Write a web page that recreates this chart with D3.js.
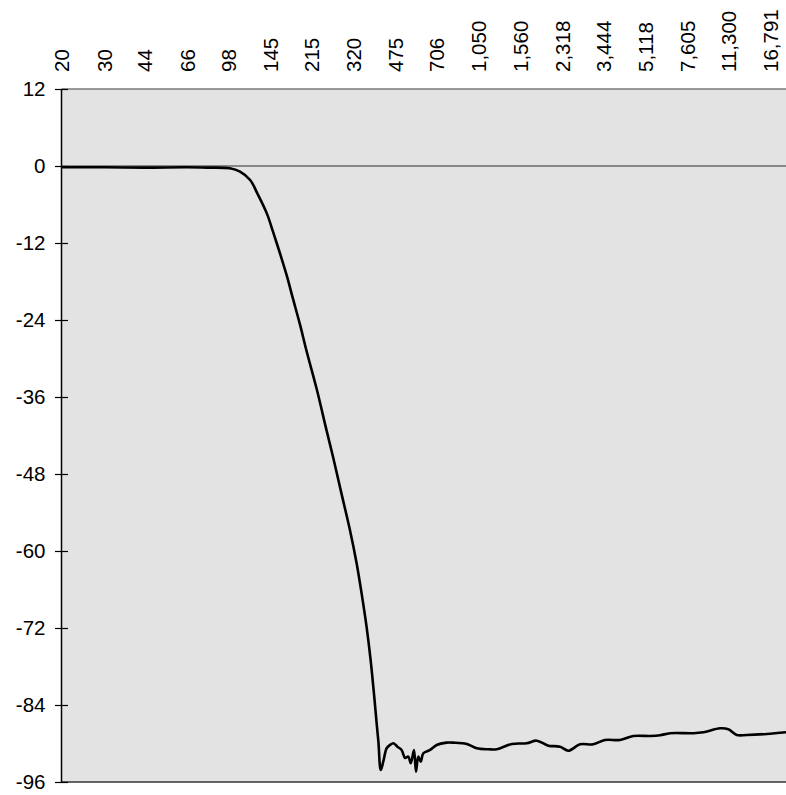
<!DOCTYPE html>
<html>
<head>
<meta charset="utf-8">
<script src="https://cdn.jsdelivr.net/npm/d3@7"></script>
<style>
  html, body { margin: 0; padding: 0; background: #fff; }
  svg { display: block; }
  text { font-family: "Liberation Sans", Arial, sans-serif; fill: #000; }
</style>
</head>
<body>
<svg id="chart" width="786" height="795"></svg>
<script>
// Frequency (Hz) of each sample
const freqs = [20, 30, 44, 66, 80, 99, 109, 120, 129, 141, 149, 159, 170, 180, 193, 205, 226, 248, 264, 286, 310, 330, 346, 363, 377, 389, 399, 406, 415, 425, 439, 453, 468, 486, 506, 523, 539, 552, 569, 580, 593, 607, 622, 663, 706, 776, 827, 939, 1033, 1153, 1249, 1440, 1660, 1826, 2038, 2278, 2466, 2754, 3124, 3494, 4028, 4570, 5356, 5890, 6476, 8082, 8888, 10416, 11268, 12206, 13418, 16228, 19496];
// Level (dB) of each sample
const levels = [-0.2, -0.2, -0.25, -0.2, -0.25, -0.36, -0.89, -2.18, -4.4, -7.5, -10.2, -13.5, -17.1, -20.6, -24.8, -28.8, -34.8, -41.2, -45.4, -51.1, -56.8, -61.9, -66.6, -71.9, -77.0, -82.2, -86.8, -89.8, -94.13, -92.83, -90.74, -90.23, -89.96, -90.49, -91.01, -92.25, -92.05, -93.08, -91.01, -94.39, -92.05, -92.83, -91.52, -91.01, -90.23, -89.87, -89.87, -90.07, -90.74, -90.9, -90.9, -90.07, -89.96, -89.56, -90.34, -90.49, -91.12, -90.12, -90.12, -89.45, -89.45, -88.83, -88.83, -88.72, -88.4, -88.4, -88.25, -87.63, -87.78, -88.67, -88.67, -88.51, -88.25];
// Axis tick labels
const xTicks = [20, 30, 44, 66, 98, 145, 215, 320, 475, 706, 1050, 1560, 2318, 3444, 5118, 7605, 11300, 16791];
const yTicks = [12, 0, -12, -24, -36, -48, -60, -72, -84, -96];

const svg = d3.select("#chart");
const plotL = 61.5, plotT = 89, plotB = 782, plotR = 786;

const x = d3.scaleLog().domain([20, 20000]).range([plotL, plotL + 3 * 242.4]);
const y = d3.scaleLinear().domain([-96, 12]).range([plotB, plotT]);

// background
svg.append("rect")
  .attr("x", plotL).attr("y", plotT)
  .attr("width", plotR - plotL).attr("height", plotB - plotT)
  .attr("fill", "#e3e3e3");

// top border
svg.append("line")
  .attr("x1", plotL).attr("x2", plotR)
  .attr("y1", y(12)).attr("y2", y(12))
  .attr("stroke", "#7a7a7a").attr("stroke-width", 1.5);

// zero line
svg.append("line")
  .attr("x1", plotL).attr("x2", plotR)
  .attr("y1", y(0)).attr("y2", y(0))
  .attr("stroke", "#6a6a6a").attr("stroke-width", 1.5);

// bottom border
svg.append("line")
  .attr("x1", plotL).attr("x2", plotR)
  .attr("y1", y(-96)).attr("y2", y(-96))
  .attr("stroke", "#333").attr("stroke-width", 1.5);

// left axis
const yAxis = d3.axisLeft(y).tickValues(yTicks).tickSize(0).tickPadding(0).tickFormat(d => String(d));
const gy = svg.append("g").attr("transform", `translate(${plotL},0)`).call(yAxis);
gy.select(".domain").remove();
gy.selectAll(".tick text")
  .attr("x", -16)
  .attr("font-size", 20.5)
  .attr("font-family", "Liberation Sans, Arial, sans-serif")
  .attr("fill", "#000");
gy.selectAll(".tick").append("line")
  .attr("x1", -6.5).attr("x2", 6.5)
  .attr("stroke", "#000").attr("stroke-width", 1.2);
svg.append("line")
  .attr("x1", plotL).attr("x2", plotL)
  .attr("y1", plotT).attr("y2", plotB)
  .attr("stroke", "#000").attr("stroke-width", 1.5);

// top axis labels
const xAxis = d3.axisTop(x).tickValues(xTicks).tickSize(0).tickFormat(d3.format(","));
const gx = svg.append("g").attr("transform", `translate(0,72)`).call(xAxis);
gx.select(".domain").remove();
gx.selectAll(".tick text")
  .attr("transform", "rotate(-90)")
  .attr("x", 0).attr("y", 0).attr("dy", "0.35em")
  .attr("text-anchor", "start")
  .attr("font-size", 20.5)
  .attr("font-family", "Liberation Sans, Arial, sans-serif")
  .attr("fill", "#000");

// curve
const data = freqs.map((f, i) => ({ f, v: levels[i] }));
const line = d3.line().x(d => x(d.f)).y(d => y(d.v)).curve(d3.curveCatmullRom.alpha(0.5));
svg.append("path")
  .datum(data)
  .attr("d", line)
  .attr("fill", "none")
  .attr("stroke", "#000")
  .attr("stroke-width", 2.6)
  .attr("stroke-linejoin", "round");
</script>
</body>
</html>
